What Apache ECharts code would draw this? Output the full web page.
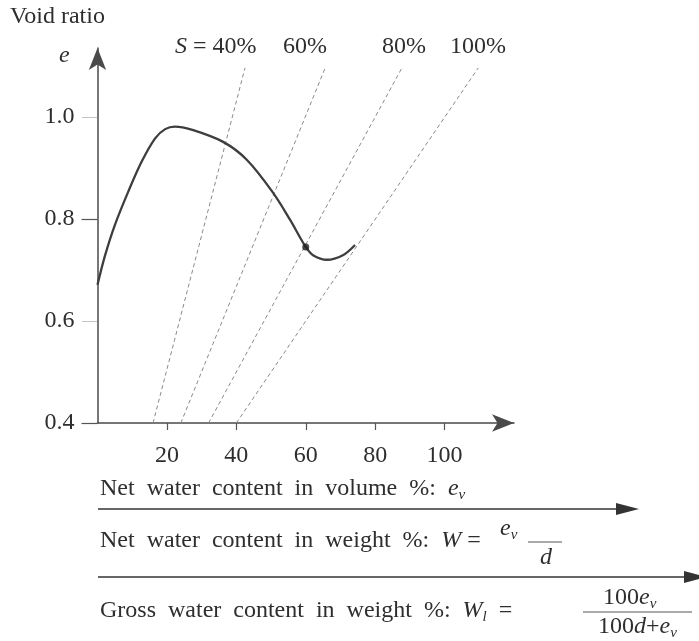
<!DOCTYPE html>
<html>
<head>
<meta charset="utf-8">
<script src="https://cdn.jsdelivr.net/npm/echarts@6/dist/echarts.min.js"></script>
<style>
  html, body { margin: 0; padding: 0; background: #fff; }
  #chart { width: 699px; height: 641px; }
</style>
</head>
<body>
<div id="chart"></div>
<script>
// void ratio curve (x = net water content in volume %)
const curveX = [0, 2.2, 5, 8.9, 12.7, 16.6, 19.5, 22.3, 27.1, 36.2, 43, 50.6, 55.5, 60, 62.1, 66.1, 70.7, 74.2];
const curveE = [0.671, 0.729, 0.788, 0.854, 0.912, 0.958, 0.976, 0.981, 0.975, 0.951, 0.916, 0.851, 0.798, 0.745, 0.729, 0.72, 0.729, 0.749];
const markPoint = [60, 0.745];

// saturation lines S = 40 / 60 / 80 / 100 %
const satNames = ['40%', '60%', '80%', '100%'];
const satBottomX = [16, 24, 32, 40];
const satTopX = [42.5, 65.6, 87.7, 109.7];
const satBottomE = 0.4;
const satTopE = 1.096;

const xTicks = [20, 40, 60, 80, 100];
const yTicks = [0.4, 0.6, 0.8, 1.0];
const ySolidTicks = [0.4, 0.8];

const font = 'Liberation Serif';
const ink = '#2e2e2e';
const fs = 24;

let chart = echarts.init(document.getElementById('chart'));

let series = [{
    type: 'line',
    data: curveX.map((x, i) => [x, curveE[i]]),
    smooth: 0.35,
    symbol: 'none',
    lineStyle: { color: '#3e3e3e', width: 2.3 },
    z: 3
}, {
    type: 'scatter',
    data: [markPoint],
    symbolSize: 7,
    itemStyle: { color: '#1e1e1e' },
    z: 4
}];
satNames.forEach((n, i) => {
    series.push({
        type: 'line',
        name: 'S=' + n,
        data: [[satBottomX[i], satBottomE], [satTopX[i], satTopE]],
        symbol: 'none',
        lineStyle: { color: '#8a8a8a', width: 1, type: [4, 3] },
        z: 2
    });
});

function txt(left, top, text) {
    return {
        type: 'text', left: left, top: top,
        style: {
            text: text, fill: ink, font: fs + 'px ' + font,
            rich: rich
        }
    };
}

const rich = {
    i: { fontFamily: font, fontStyle: 'italic', fontSize: fs, fill: ink },
    sub: { fontFamily: font, fontStyle: 'italic', fontSize: 15, fill: ink, verticalAlign: 'bottom', padding: [12, 0, 0, 0] }
};

let graphics = [
    txt(10, 5, 'Void ratio'),
    txt(59, 44, '{i|e}'),
    txt(175, 35, '{i|S} = 40%'),
    txt(283, 35, '60%'),
    txt(382, 35, '80%'),
    txt(450, 35, '100%'),
    // bottom scales
    txt(100, 477, 'Net  water  content  in  volume  %:  {i|e}{sub|v}'),
    { type: 'line', shape: { x1: 98, y1: 509, x2: 620, y2: 509 }, style: { stroke: '#333', lineWidth: 1.6 } },
    { type: 'polygon', shape: { points: [[616, 503], [639, 509], [616, 515]] }, style: { fill: '#333' } },
    txt(100, 529, 'Net  water  content  in  weight  %:  {i|W} ='),
    txt(500, 517, '{i|e}{sub|v}'),
    { type: 'line', shape: { x1: 528, y1: 542, x2: 562, y2: 542 }, style: { stroke: '#555', lineWidth: 1 } },
    txt(540, 546, '{i|d}'),
    { type: 'line', shape: { x1: 98, y1: 577, x2: 690, y2: 577 }, style: { stroke: '#333', lineWidth: 1.6 } },
    { type: 'polygon', shape: { points: [[684, 571], [706, 577], [684, 583]] }, style: { fill: '#333' } },
    txt(100, 599, 'Gross  water  content  in  weight  %:  {i|W}{sub|l}  ='),
    txt(603, 586, '100{i|e}{sub|v}'),
    { type: 'line', shape: { x1: 583, y1: 612, x2: 692, y2: 612 }, style: { stroke: '#555', lineWidth: 1 } },
    txt(598, 615, '100{i|d}+{i|e}{sub|v}')
];

let option = {
    backgroundColor: '#fff',
    animation: false,
    grid: { left: 97.5, right: 185, top: 48, bottom: 218, containLabel: false },
    xAxis: {
        type: 'value', min: 0, max: 120, interval: 20,
        splitLine: { show: false },
        axisLine: { lineStyle: { color: '#4a4a4a', width: 1.5 }, symbol: ['none', 'arrow'], symbolSize: [13, 22] },
        axisTick: { customValues: xTicks, length: 7, lineStyle: { color: '#555', width: 1.2 } },
        axisLabel: { customValues: xTicks, margin: 21, color: ink, fontFamily: font, fontSize: fs }
    },
    yAxis: [{
        type: 'value', position: 'left', min: 0.4, max: 1.135, interval: 0.2,
        splitLine: { show: false },
        axisLine: { lineStyle: { color: '#4a4a4a', width: 1.5 }, symbol: ['none', 'arrow'], symbolSize: [13, 22] },
        axisTick: { customValues: yTicks, length: 16, lineStyle: { color: '#888', width: 1, type: [1, 1] } },
        axisLabel: {
            customValues: yTicks, margin: 23, color: ink, fontFamily: font, fontSize: fs,
            formatter: v => v.toFixed(1)
        }
    }, {
        type: 'value', position: 'left', offset: 0, min: 0.4, max: 1.135, interval: 0.4,
        splitLine: { show: false },
        axisLine: { show: false },
        axisTick: { customValues: ySolidTicks, length: 16, lineStyle: { color: '#555', width: 1.2 } },
        axisLabel: { show: false }
    }],
    series: series,
    graphic: graphics
};
chart.setOption(option);
</script>
</body>
</html>
